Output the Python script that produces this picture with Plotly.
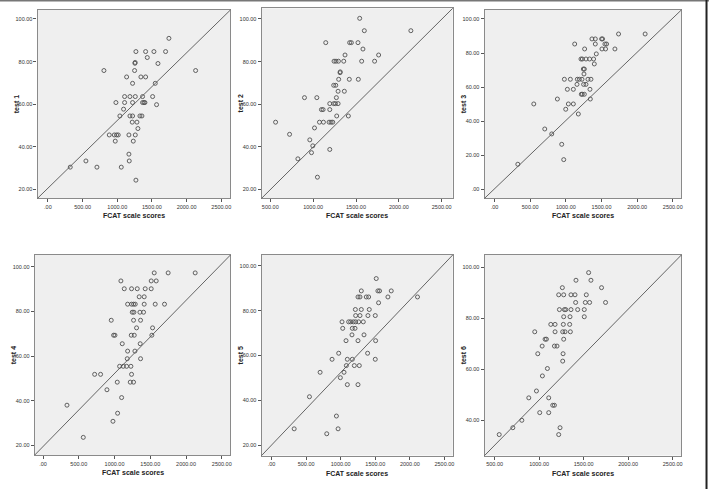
import plotly.graph_objects as go

# ---------------- data ----------------
x_title = "FCAT scale scores"
y_titles = ["test 1", "test 2", "test 3", "test 4", "test 5", "test 6"]

p1_x = [1745, 1269, 1409, 1529, 1697, 1433, 1255, 1258, 1587, 808, 1250, 2130,
        1135, 1341, 1409, 1221, 1548, 1106, 1183, 1260, 1365, 1510,
        981, 1106, 1221, 1365, 1385, 1399, 1567, 1091,
        1038, 1183, 1221, 1327, 1356, 1216, 1284, 1298,
        885, 957, 990, 1014, 1168, 1260, 971, 1231, 1168, 548, 1173,
        322, 707, 1058, 1269]
p1_y = [90.9, 84.7, 84.7, 84.7, 84.7, 81.9, 79.2, 79.6, 79.1, 75.8, 75.8, 75.8,
        72.8, 72.8, 72.8, 69.8, 69.8, 63.6, 63.6, 63.6, 63.6, 63.6,
        60.8, 60.8, 60.8, 60.8, 60.8, 60.8, 59.8, 57.7,
        54.5, 54.5, 54.5, 54.5, 54.5, 51.6, 51.6, 48.6,
        45.6, 45.6, 45.6, 45.6, 45.6, 45.6, 42.7, 42.7, 36.6, 33.4, 33.4,
        30.5, 30.5, 30.5, 24.4]

p2_x = [1543, 1597, 2140, 1147, 1426, 1446, 1523, 1581, 1372, 1764,
        1244, 1267, 1295, 1357, 1566, 1717, 1314, 1316,
        1298, 1422, 1527, 1240, 1264, 1291, 1364, 899, 1043, 1271,
        1194, 1240, 1260, 1291, 1097, 1116, 1194, 1275, 1411,
        562, 1074, 1120, 1186, 1209, 1229, 1016, 725, 961, 996, 981,
        822, 1194, 1050]
p2_y = [100.3, 94.5, 94.5, 88.9, 88.9, 88.9, 88.9, 85.9, 83.1, 83.1,
        80.2, 80.2, 80.2, 80.2, 80.2, 80.2, 74.8, 75.2,
        71.7, 71.7, 71.7, 68.9, 68.9, 66.1, 66.1, 63.1, 63.1, 63.1,
        60.3, 60.3, 60.3, 60.3, 57.5, 57.5, 57.5, 54.5, 54.5,
        51.6, 51.6, 51.6, 51.6, 51.6, 51.6, 48.9, 45.9, 43.3, 40.5, 37.3,
        34.4, 38.8, 25.8]

p3_x = [1739, 2112, 1366, 1413, 1501, 1515, 1124, 1413, 1548, 1571,
        1263, 1506, 1557, 1688, 1427, 1212, 1231, 1282, 1333, 1389, 1399,
        1245, 1259, 1254, 979, 1063, 1161, 1189, 1226, 1310, 1352,
        1156, 1249, 1282, 1021, 1105, 1338, 1217, 1231, 1259, 881, 1343,
        550, 1035, 1105, 998, 1175, 704, 802, 942, 970, 326]
p3_y = [91.2, 91.2, 88.3, 88.3, 88.3, 88.3, 85.3, 85.3, 85.3, 85.3,
        82.4, 82.4, 82.4, 82.4, 79.5, 76.5, 76.5, 76.5, 76.5, 76.5, 73.6,
        70.6, 70.6, 67.7, 64.6, 64.6, 64.6, 64.6, 64.6, 64.6, 64.6,
        61.6, 61.6, 61.6, 58.7, 58.7, 58.7, 55.8, 55.8, 55.8, 53.0, 53.0,
        50.1, 50.1, 50.1, 47.0, 44.2, 35.4, 32.5, 26.4, 17.4, 14.7]

p4_x = [1555, 1750, 2128, 1089, 1513, 1583, 1136, 1238, 1318, 1429, 1513,
        1345, 1415, 1183, 1238, 1266, 1290, 1415, 1569, 1699,
        1248, 1271, 1355, 1406, 954, 1266, 1364, 1308, 1532,
        987, 1006, 1234, 1276, 1522, 1108, 1359, 1183, 1285, 1178, 1364,
        1071, 1122, 1169, 1229, 722, 805, 1238, 1038, 1220, 1266,
        894, 1099, 335, 1043, 978, 563]
p4_y = [97.2, 97.2, 97.2, 93.6, 93.6, 93.6, 90.1, 90.1, 90.1, 90.1, 90.1,
        86.5, 86.5, 83.2, 83.2, 83.2, 83.2, 83.2, 83.2, 83.2,
        79.6, 79.6, 79.6, 79.6, 76.0, 76.0, 76.0, 72.6, 72.6,
        69.3, 69.3, 69.3, 69.3, 69.3, 65.5, 65.5, 62.2, 62.2, 58.8, 58.8,
        55.4, 55.4, 55.4, 55.4, 51.8, 51.8, 51.8, 48.3, 48.3, 48.3,
        44.9, 41.4, 38.0, 34.4, 30.8, 23.6]

p5_x = [1514, 1298, 1538, 1562, 1731, 1250, 1279, 1370, 1404, 1683, 2111, 1548,
        1212, 1298, 1413, 1216, 1279, 1394, 1500,
        1019, 1115, 1144, 1183, 1216, 1260, 1327, 1029, 1168, 1207,
        1163, 1337, 1077, 1250, 1505, 971, 1389, 875, 1096, 1168, 1500,
        1082, 1197, 1269, 702, 1048, 995, 1096, 1250, 548, 938, 327, 962, 798]
p5_y = [94.3, 88.8, 88.8, 88.8, 88.8, 86.1, 86.1, 86.1, 86.1, 86.1, 86.1, 83.5,
        80.5, 80.5, 80.5, 77.8, 77.8, 77.8, 77.8,
        75.0, 75.0, 75.0, 75.0, 75.0, 75.0, 75.0, 72.1, 72.1, 72.1,
        69.2, 69.2, 66.6, 66.6, 66.6, 61.0, 61.0, 58.3, 58.3, 58.3, 58.3,
        55.5, 55.5, 55.5, 52.5, 52.5, 50.1, 47.0, 47.0, 41.6, 33.0, 27.3, 27.3, 25.1]

p6_x = [1556, 1414, 1582, 1261, 1701, 1220, 1276, 1358, 1403, 1530,
        1410, 1519, 1567, 1746, 1228, 1284, 1299, 1358, 1433, 1507,
        1276, 1347, 1507, 1131, 1179, 1272, 1343, 951, 1179, 1265, 1291, 1351,
        1067, 1082, 1276, 1034, 1172, 1201, 985, 1269, 1265, 1093, 1037,
        970, 884, 1108, 1153, 1172, 1007, 1108, 806, 705, 1235, 552, 1220]
p6_y = [97.9, 94.9, 94.9, 92.0, 92.0, 89.2, 89.2, 89.2, 89.2, 89.2,
        86.2, 86.2, 86.2, 86.2, 83.4, 83.4, 83.4, 83.4, 83.4, 83.4,
        80.6, 80.6, 80.6, 77.6, 77.6, 77.6, 77.6, 74.7, 74.7, 74.7, 74.7, 74.7,
        71.8, 71.8, 71.8, 69.1, 69.1, 69.1, 66.1, 66.1, 63.2, 60.3, 57.4,
        51.5, 48.8, 48.8, 45.9, 45.9, 43.0, 43.0, 40.0, 37.1, 37.1, 34.4, 34.4]

xs = [p1_x, p2_x, p3_x, p4_x, p5_x, p6_x]
ys = [p1_y, p2_y, p3_y, p4_y, p5_y, p6_y]

# axis ranges per panel
x_ranges = [[-149, 2632], [399, 2628], [-140, 2620], [-116, 2621], [-144, 2620], [388, 2597]]
y_ranges = [[15.9, 104.2], [15.9, 105.0], [-5.3, 105.3], [15.7, 105.2], [15.4, 104.8], [26.2, 104.8]]

x_tick_vals = [
    [0, 500, 1000, 1500, 2000, 2500],
    [500, 1000, 1500, 2000, 2500],
    [0, 500, 1000, 1500, 2000, 2500],
    [0, 500, 1000, 1500, 2000, 2500],
    [0, 500, 1000, 1500, 2000, 2500],
    [500, 1000, 1500, 2000, 2500],
]
y_tick_vals = [
    [20, 40, 60, 80, 100],
    [20, 40, 60, 80, 100],
    [0, 20, 40, 60, 80, 100],
    [20, 40, 60, 80, 100],
    [20, 40, 60, 80, 100],
    [40, 60, 80, 100],
]


def fmt(v):
    return ".00" if v == 0 else f"{v:.2f}"


# ---------------- layout geometry ----------------
W, H = 711, 489
x_domains = [[0.053, 0.325], [0.369, 0.6385], [0.6835, 0.961],
             [0.049, 0.325], [0.369, 0.6385], [0.6835, 0.961]]
y_domains = [[0.5945, 0.9796], [0.5945, 0.983], [0.5945, 0.9796],
             [0.0695, 0.4785], [0.0685, 0.4785], [0.0685, 0.4785]]

fig = go.Figure()
tick_font = dict(family="Liberation Sans, Arial", size=5.5, color="#333333")
title_font = dict(family="Liberation Sans, Arial", size=7, color="#222222")

for i in range(6):
    k = "" if i == 0 else str(i + 1)
    fig.add_trace(go.Scatter(
        x=xs[i], y=ys[i], mode="markers",
        marker=dict(symbol="circle-open", size=4, color="#505050", line=dict(width=0.9)),
        xaxis="x" + k, yaxis="y" + k, showlegend=False, hoverinfo="x+y",
    ))
    ax = dict(
        domain=x_domains[i], range=x_ranges[i], anchor="y" + k,
        tickvals=x_tick_vals[i], ticktext=[fmt(v) for v in x_tick_vals[i]],
        ticks="outside", ticklen=3, tickwidth=1, tickcolor="#555555",
        showline=True, mirror=True, linecolor="#8a8a8a", linewidth=1.2,
        showgrid=False, zeroline=False, tickfont=tick_font,
    )
    ay = dict(
        domain=y_domains[i], range=y_ranges[i], anchor="x" + k,
        tickvals=y_tick_vals[i], ticktext=[fmt(v) for v in y_tick_vals[i]],
        ticks="outside", ticklen=3, tickwidth=1, tickcolor="#555555",
        showline=True, mirror=True, linecolor="#8a8a8a", linewidth=1.2,
        showgrid=False, zeroline=False, tickfont=tick_font,
    )
    fig.layout["xaxis" + k] = ax
    fig.layout["yaxis" + k] = ay

    # diagonal reference line across the plotting area
    fig.add_shape(type="line", xref=f"x{k} domain", yref=f"y{k} domain",
                  x0=0, y0=0, x1=1, y1=1, line=dict(color="#555555", width=0.9))

    # axis titles
    fig.add_annotation(text="<b>" + x_title + "</b>", xref=f"x{k} domain", yref=f"y{k} domain",
                       x=0.5, y=0, yanchor="top", yshift=-12, showarrow=False,
                       font=title_font)
    fig.add_annotation(text="<b>" + y_titles[i] + "</b>", xref=f"x{k} domain", yref=f"y{k} domain",
                       x=0, y=0.5, xanchor="right", xshift=-16, textangle=-90, showarrow=False,
                       font=title_font)

# outer frame (top and right edges of the picture)
fig.add_shape(type="line", xref="paper", yref="paper", x0=0, x1=1, y0=0.999, y1=0.999,
              line=dict(color="#777777", width=2))
fig.add_shape(type="line", xref="paper", yref="paper", x0=0.9965, x1=0.9965, y0=0, y1=1,
              line=dict(color="#222222", width=2))

fig.update_layout(
    width=W, height=H,
    margin=dict(l=0, r=0, t=0, b=0),
    paper_bgcolor="white", plot_bgcolor="#efefef",
)

fig.write_html("out.html")
